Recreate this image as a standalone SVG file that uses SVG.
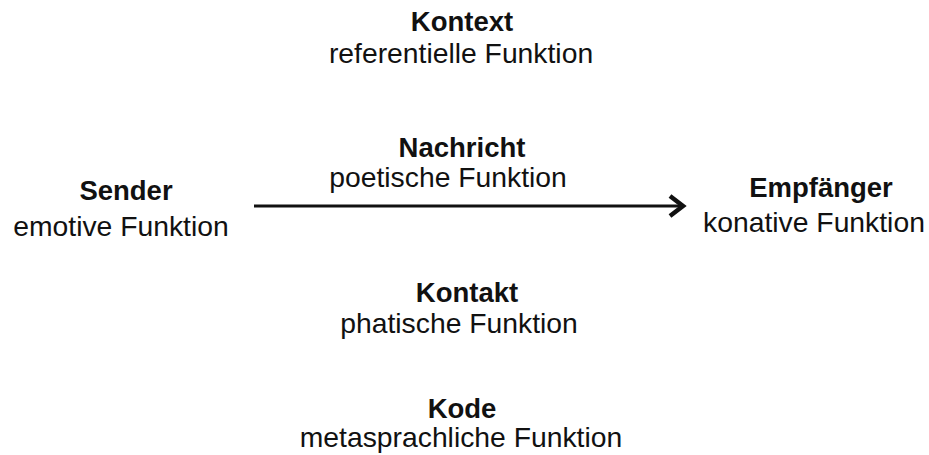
<svg xmlns="http://www.w3.org/2000/svg" width="929" height="455" viewBox="0 0 929 455">
<style>
text{font-family:"Liberation Sans",Arial,sans-serif;fill:#111;text-anchor:middle}
.t{font-weight:bold;font-size:27.5px}
.s{font-size:28.3px}
</style>
<rect width="929" height="455" fill="#fff"/>
<g id="kontext"><text class="t" x="462" y="31">Kontext</text><text class="s" x="461" y="63">referentielle Funktion</text></g>
<g id="nachricht"><text class="t" x="462" y="157">Nachricht</text><text class="s" x="448" y="187">poetische Funktion</text></g>
<g id="sender"><text class="t" x="126" y="200">Sender</text><text class="s" x="121" y="236">emotive Funktion</text></g>
<g id="empfaenger"><text class="t" x="821" y="197">Empfänger</text><text class="s" x="814" y="232">konative Funktion</text></g>
<g id="kontakt"><text class="t" x="467" y="302">Kontakt</text><text class="s" x="459" y="333">phatische Funktion</text></g>
<g id="kode"><text class="t" x="462" y="418">Kode</text><text class="s" x="461" y="447">metasprachliche Funktion</text></g>
<g id="connectors" fill="none" stroke="#111" stroke-width="3.2">
<line x1="254" y1="206" x2="682" y2="206"/>
<polyline points="670,196 683,206 670,216" stroke-width="4.5" stroke-linejoin="miter"/>
</g>
</svg>
